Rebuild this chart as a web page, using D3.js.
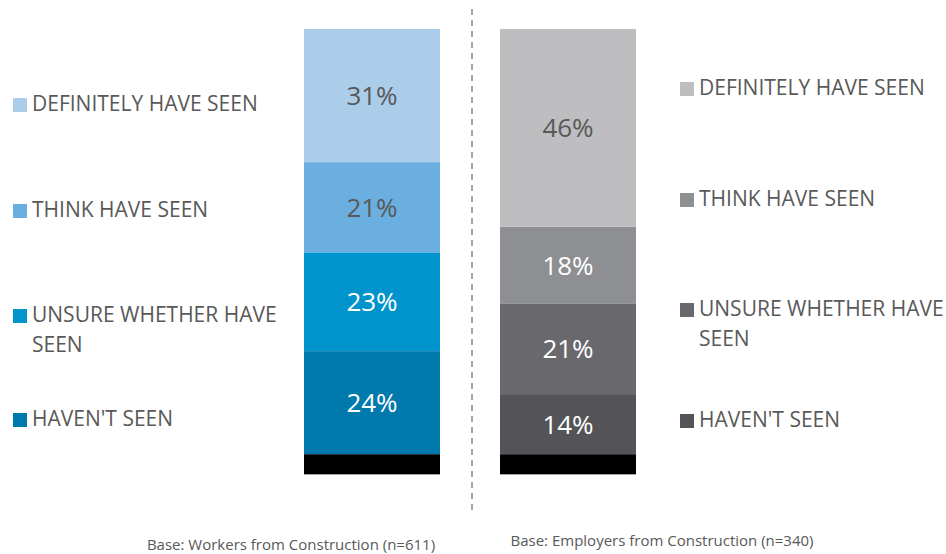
<!DOCTYPE html>
<html>
<head>
<meta charset="utf-8">
<script src="https://cdn.jsdelivr.net/npm/d3@7"></script>
<style>
  body { margin: 0; background: #fff; }
  text { font-family: "Open Sans", "Noto Sans", sans-serif; }
</style>
</head>
<body>
<div id="viz-container"></div>
<script>
let svgWidth = 946;
let svgHeight = 554;

// data
let categories = ["DEFINITELY HAVE SEEN", "THINK HAVE SEEN", "UNSURE WHETHER HAVE SEEN", "HAVEN'T SEEN"];
let workersValues = [31, 21, 23, 24];
let employersValues = [46, 18, 21, 14];
let workersColors = ["#abcde9", "#6aafe0", "#0093cc", "#0079ad"];
let employersColors = ["#bebec0", "#8e8f93", "#68686d", "#545458"];
let workersLabelColors = ["#595959", "#595959", "#ffffff", "#ffffff"];
let employersLabelColors = ["#595959", "#ffffff", "#ffffff", "#ffffff"];
let baseTexts = ["Base: Workers from Construction (n=611)", "Base: Employers from Construction (n=340)"];

let viz = d3.select("#viz-container")
  .append("svg")
    .attr("width", svgWidth)
    .attr("height", svgHeight);

// black base strip sits below zero
let baseStrip = 4.6;
let y = d3.scaleLinear().domain([-baseStrip, 99]).range([474, 29]);
let x = d3.scaleBand().domain(["workers", "employers"]).range([304, 636]).paddingInner(60 / 196);

function stackUp(values, colors, labelColors){
  // bottom segment is the last category
  let out = [];
  let acc = 0;
  for (let i = values.length - 1; i >= 0; i--) {
    out.push({ v: values[i], y0: acc, y1: acc + values[i], fill: colors[i], tc: labelColors[i], name: categories[i] });
    acc += values[i];
  }
  return out;
}

let bars = [
  { key: "workers", segs: stackUp(workersValues, workersColors, workersLabelColors) },
  { key: "employers", segs: stackUp(employersValues, employersColors, employersLabelColors) }
];

bars.forEach(function(b){
  let g = viz.append("g").attr("class", "bar-" + b.key);

  g.selectAll(".seg").data(b.segs).enter()
    .append("rect")
      .attr("class", "seg")
      .attr("x", x(b.key))
      .attr("width", x.bandwidth())
      .attr("y", d => y(d.y1))
      .attr("height", d => y(d.y0) - y(d.y1))
      .attr("fill", d => d.fill);

  g.selectAll(".segLabel").data(b.segs).enter()
    .append("text")
      .attr("class", "segLabel")
      .attr("x", x(b.key) + x.bandwidth() / 2)
      .attr("y", d => (y(d.y0) + y(d.y1)) / 2)
      .attr("dy", "0.36em")
      .attr("text-anchor", "middle")
      .attr("font-size", 26)
      .attr("fill", d => d.tc)
      .text(d => d.v + "%");

  // black strip at the bottom
  g.append("rect")
    .attr("x", x(b.key))
    .attr("width", x.bandwidth())
    .attr("y", y(0))
    .attr("height", y(-baseStrip) - y(0))
    .attr("fill", "#000");

  g.append("line")
    .attr("x1", x(b.key))
    .attr("x2", x(b.key) + x.bandwidth())
    .attr("y1", y(-baseStrip) + 0.5)
    .attr("y2", y(-baseStrip) + 0.5)
    .attr("stroke", "#a6a6a6")
    .attr("stroke-width", 1);
});

// dashed divider
viz.append("line")
  .attr("x1", 472).attr("x2", 472)
  .attr("y1", 9).attr("y2", 514)
  .attr("stroke", "#a6a6a6")
  .attr("stroke-width", 2)
  .attr("stroke-dasharray", "6,5");

// legends
let legends = [
  { x: 13, baselines: [111, 217, 322, 426], colors: workersColors },
  { x: 680, baselines: [95, 206, 316, 427], colors: employersColors }
];

legends.forEach(function(lg){
  let items = viz.append("g").selectAll(".legendItem").data(categories).enter()
    .append("g")
      .attr("class", "legendItem")
      .attr("transform", (d, i) => "translate(" + lg.x + "," + lg.baselines[i] + ")");

  items.append("rect")
    .attr("x", 0)
    .attr("y", -13)
    .attr("width", 14)
    .attr("height", 14)
    .attr("fill", (d, i) => lg.colors[i]);

  items.append("text")
    .attr("x", 19)
    .attr("y", 0)
    .attr("font-size", 21)
    .attr("fill", "#595959")
    .each(function(d){
      let t = d3.select(this);
      if (d == "UNSURE WHETHER HAVE SEEN") {
        t.append("tspan").attr("x", 19).attr("dy", 0).text("UNSURE WHETHER HAVE");
        t.append("tspan").attr("x", 19).attr("dy", 30).text("SEEN");
      } else {
        t.text(d);
      }
    });
});

// base notes
viz.append("text")
  .attr("x", 291).attr("y", 550)
  .attr("text-anchor", "middle")
  .attr("font-size", 15)
  .attr("fill", "#595959")
  .text(baseTexts[0]);

viz.append("text")
  .attr("x", 662).attr("y", 546)
  .attr("text-anchor", "middle")
  .attr("font-size", 15)
  .attr("fill", "#595959")
  .text(baseTexts[1]);
</script>
</body>
</html>
